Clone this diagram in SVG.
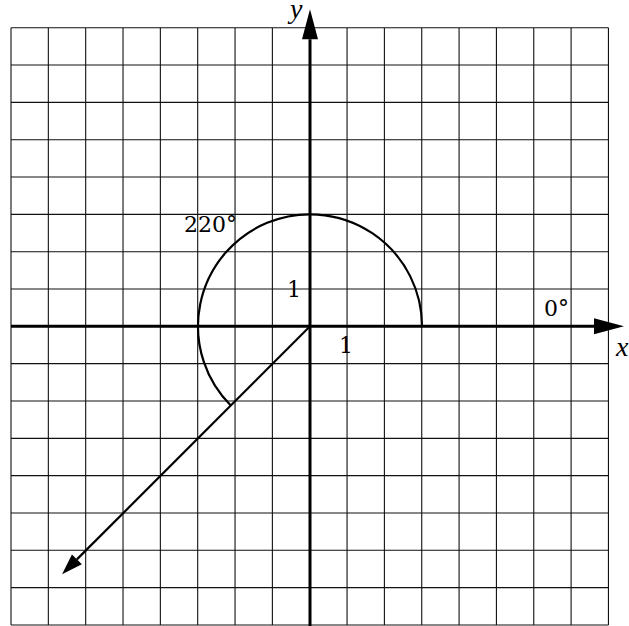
<svg xmlns="http://www.w3.org/2000/svg" width="629" height="626" viewBox="0 0 629 626">
  <style>
    .grid { stroke: #111; stroke-width: 1.1; fill: none; }
    .axis { stroke: #000; stroke-width: 3; fill: none; }
    .curve { stroke: #000; stroke-width: 2.2; fill: none; }
    .lbl { font-family: "DejaVu Serif", "Liberation Serif", serif; font-size: 22px; fill: #000; }
    .var { font-family: "Liberation Serif", "Times New Roman", serif; font-size: 28px; font-style: italic; fill: #000; }
  </style>
  <defs>
    <marker id="bigHead" markerUnits="userSpaceOnUse" markerWidth="32" markerHeight="18" refX="0" refY="8" orient="auto" overflow="visible">
      <path d="M0,0 L30,8 L0,16 Z" fill="#000"/>
    </marker>
    <marker id="smallHead" markerUnits="userSpaceOnUse" markerWidth="22" markerHeight="16" refX="0" refY="7" orient="auto" overflow="visible">
      <path d="M0,0 L21,7 L0,14 Z" fill="#000"/>
    </marker>
  </defs>
  <rect width="629" height="626" fill="#fff"/>
  <g id="grid">
    <path class="grid" d="M11,27.7V625 M48.34,27.7V625 M85.68,27.7V625 M123.02,27.7V625 M160.36,27.7V625 M197.7,27.7V625 M235.04,27.7V625 M272.38,27.7V625 M347.06,27.7V625 M384.4,27.7V625 M421.74,27.7V625 M459.08,27.7V625 M496.42,27.7V625 M533.76,27.7V625 M571.1,27.7V625 M608.44,27.7V625
      M11,27.7H608.44 M11,65.03H608.44 M11,102.36H608.44 M11,139.69H608.44 M11,177.02H608.44 M11,214.35H608.44 M11,251.68H608.44 M11,289.01H608.44 M11,363.67H608.44 M11,401H608.44 M11,438.33H608.44 M11,475.66H608.44 M11,512.99H608.44 M11,550.32H608.44 M11,587.65H608.44 M11,625H608.44"/>
  </g>
  <g id="connectors">
    <line id="x-axis" class="axis" x1="11" y1="326.3" x2="594" y2="326.3" marker-end="url(#bigHead)"/>
    <line id="y-axis" class="axis" x1="310" y1="626" x2="310" y2="39.3" marker-end="url(#bigHead)"/>
    <path id="arc" class="curve" d="M422,326.3 A112,112 0 1 0 230.8,405.5"/>
    <line id="ray" class="curve" x1="310" y1="326.3" x2="76.9" y2="559.4" marker-end="url(#smallHead)"/>
  </g>
  <g id="labels">
    <text class="var" x="290" y="18">y</text>
    <text class="var" x="616" y="356">x</text>
    <text class="lbl" x="544" y="316">0°</text>
    <text class="lbl" x="184" y="232">220°</text>
    <text class="lbl" x="287" y="297">1</text>
    <text class="lbl" x="339" y="353">1</text>
  </g>
</svg>
